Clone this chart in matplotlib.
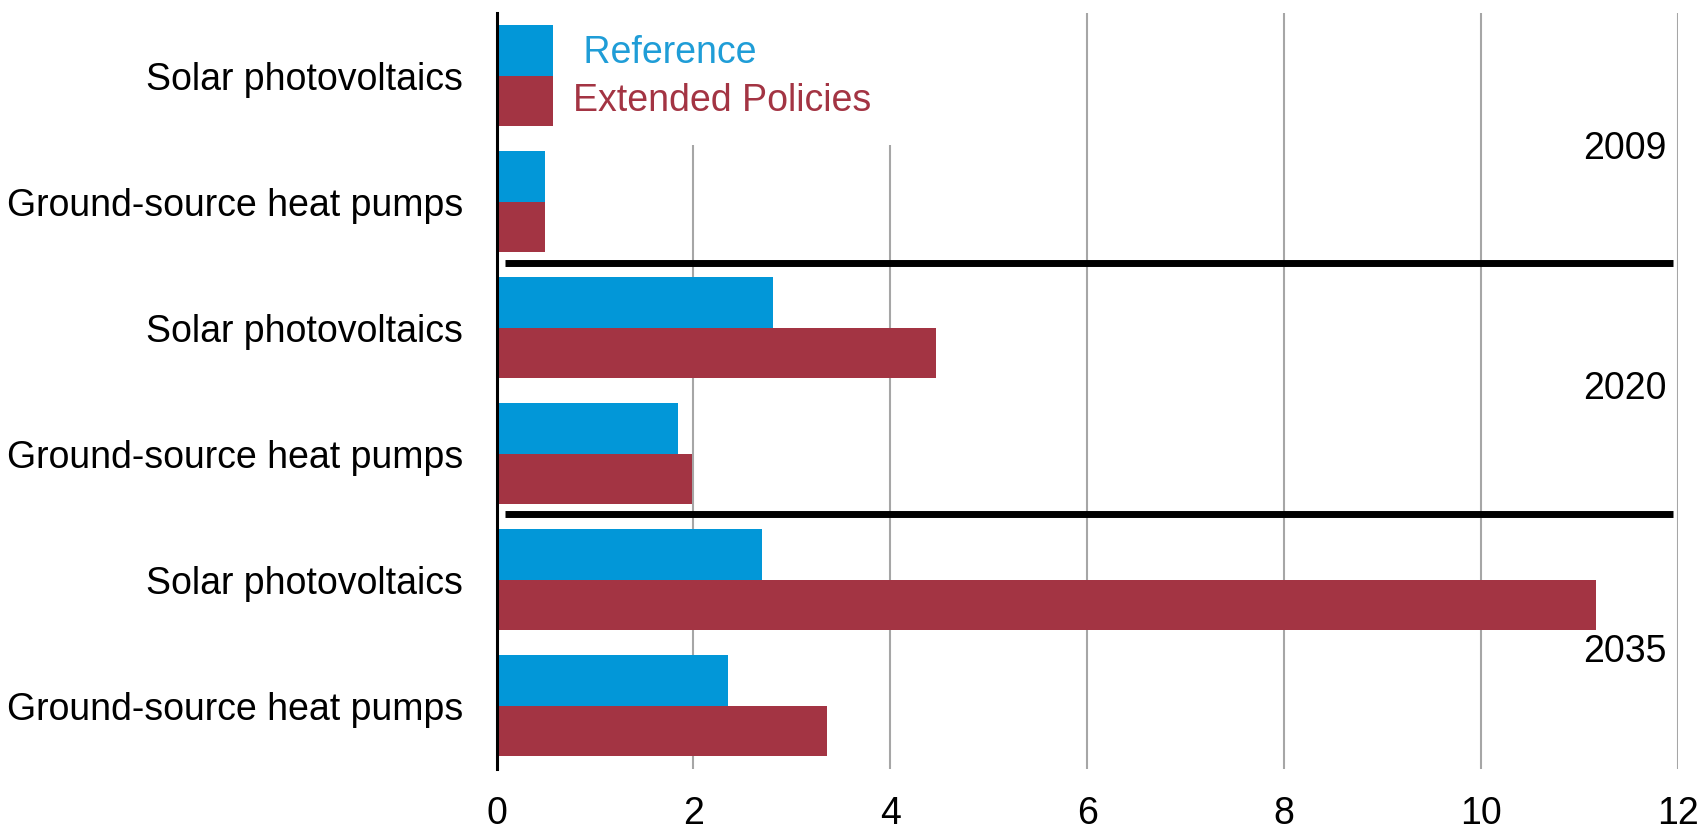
import numpy as np
import matplotlib
matplotlib.use("Agg")
import matplotlib.pyplot as plt
from matplotlib.patches import Patch, Rectangle

plt.rcParams['font.family'] = ['Liberation Sans', 'DejaVu Sans']

# technologies, top to bottom, grouped by year
categories = ["Solar photovoltaics", "Ground-source heat pumps",
              "Solar photovoltaics", "Ground-source heat pumps",
              "Solar photovoltaics", "Ground-source heat pumps"]
reference = [0.57, 0.49, 2.81, 1.84, 2.70, 2.35]
extended = [0.57, 0.49, 4.46, 1.98, 11.17, 3.36]
years = ["2009", "2020", "2035"]
year_label_y = [0.66, 2.56, 4.65]
group_breaks = [1.49, 3.48]
xticks = [0, 2, 4, 6, 8, 10, 12]

blue = "#0297d8"
red = "#a33443"

fig = plt.figure(figsize=(17.04, 8.295), dpi=100)
ax = fig.add_axes([0.2914, 0.0724, 0.6934, 0.9119])

y = np.arange(len(categories))
h = 0.4
ax.barh(y - h / 2, reference, height=h, color=blue, zorder=3)
ax.barh(y + h / 2, extended, height=h, color=red, zorder=3)

# thick rules separating the years
for yb in group_breaks:
    ax.hlines(yb, 0.09, 11.95, color="black", linewidth=5, zorder=4)

for yl, yr in zip(year_label_y, years):
    ax.text(11.88, yl, yr, ha="right", va="baseline", fontsize=27, zorder=5)

ax.set_xlim(0, 12)
ax.set_ylim(5.5, -0.5)
ax.set_xticks(xticks)
ax.set_xticklabels([str(t) for t in xticks])
ax.set_yticks(y)
ax.set_yticklabels(categories)
ax.tick_params(axis="y", length=0, pad=24, labelsize=27)
ax.tick_params(axis="x", length=0, pad=19, labelsize=27)

ax.grid(axis="x", color="#a6a6a6", linewidth=1.5, zorder=0)
ax.set_axisbelow(True)
for s in ["top", "right", "bottom"]:
    ax.spines[s].set_visible(False)
ax.spines["left"].set_linewidth(2.2)
ax.spines["left"].set_zorder(5)

# white backing behind the legend hides the grid there
ax.add_patch(Rectangle((0.7, -0.5), 4.5, 1.05, facecolor="white",
                       edgecolor="none", zorder=1))

handles = [Patch(color=blue, label=" Reference"),
           Patch(color=red, label="Extended Policies")]
leg = ax.legend(handles=handles, loc="upper left", bbox_to_anchor=(0.054, 0.988),
                handlelength=0, handletextpad=0, fontsize=27,
                labelcolor=["#1f9dd7", red], frameon=False,
                borderaxespad=0, borderpad=0.35, labelspacing=0.31)
for hnd in leg.legend_handles:
    hnd.set_visible(False)
leg.set_zorder(6)

fig.savefig("out.png", dpi=100)
